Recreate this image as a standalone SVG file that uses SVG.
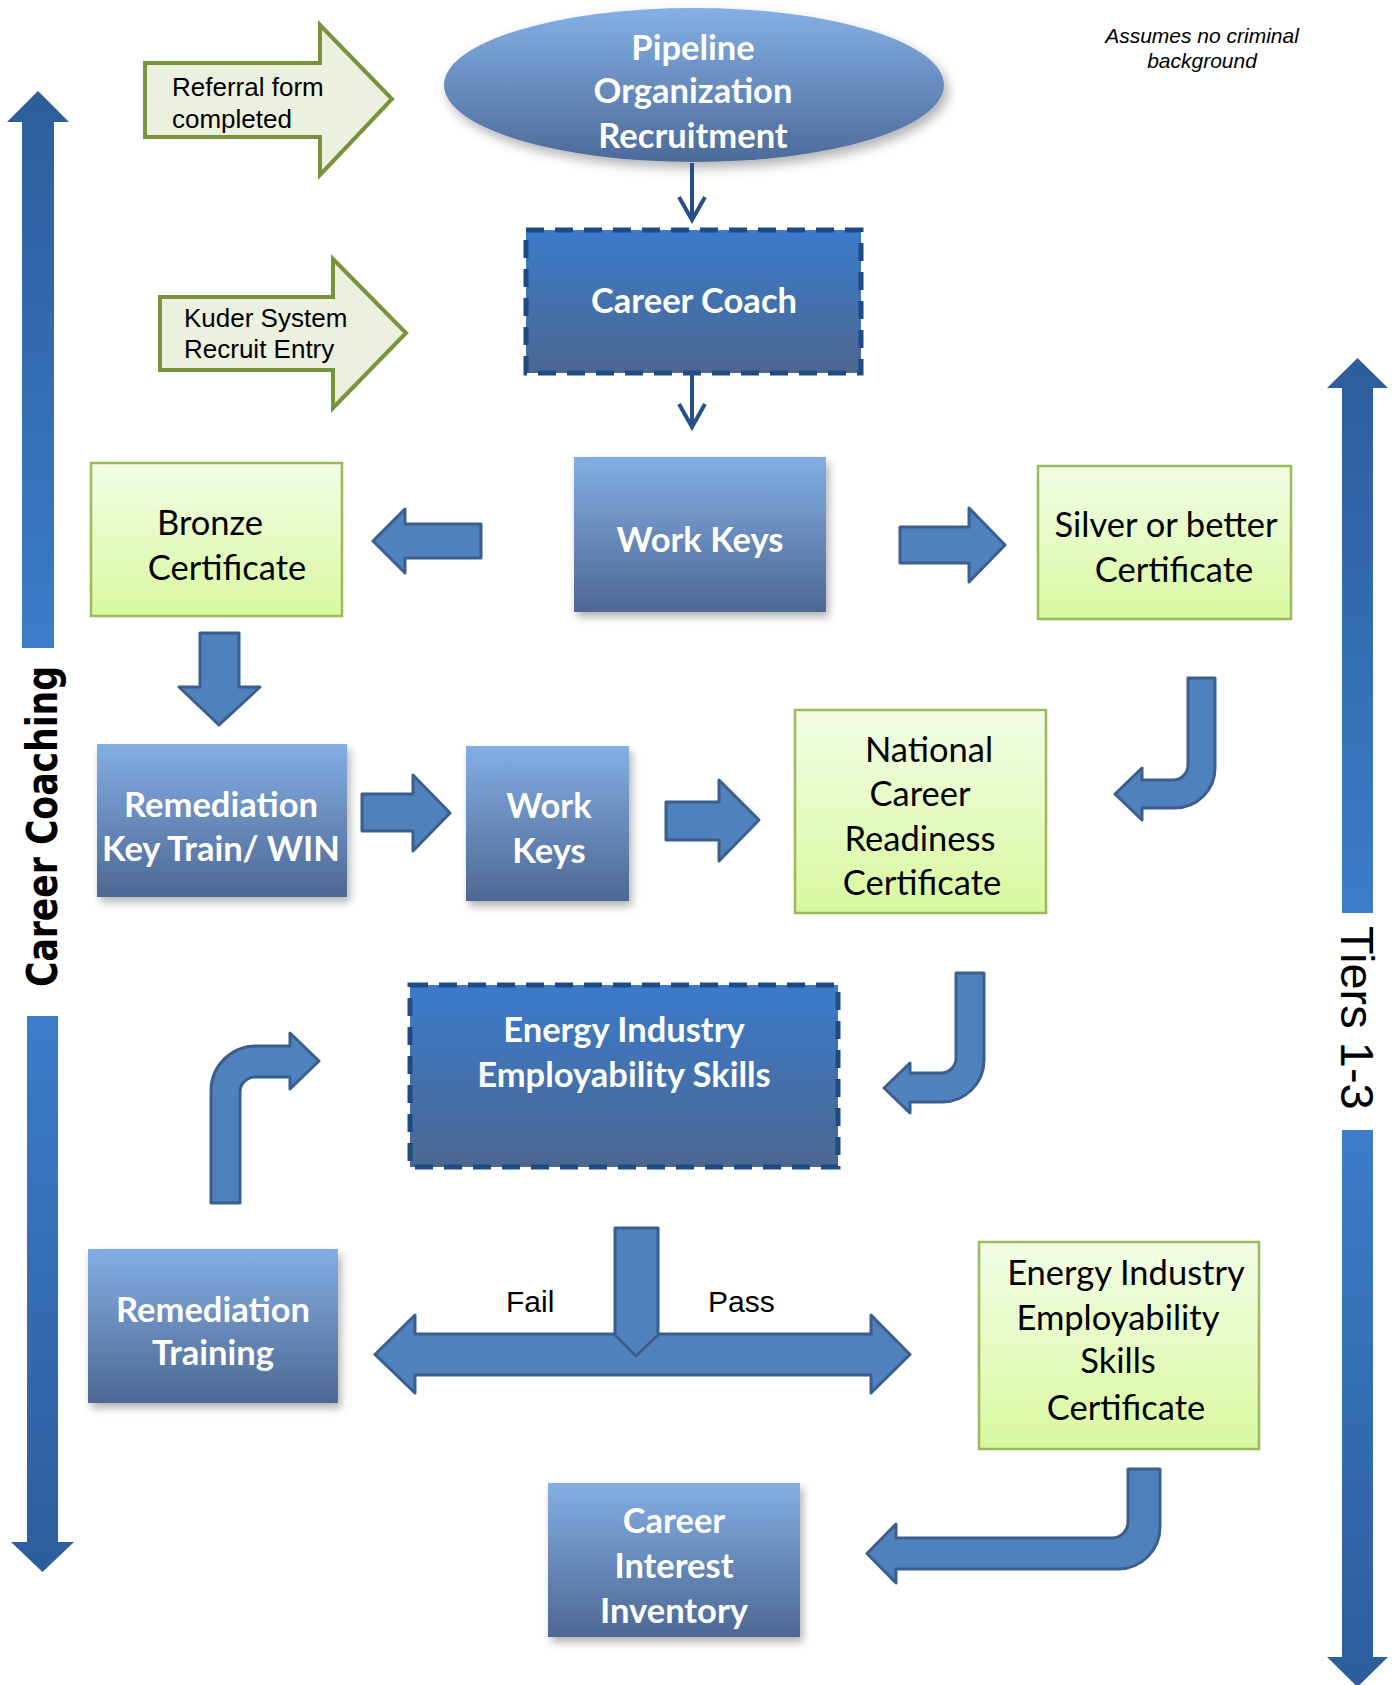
<svg xmlns="http://www.w3.org/2000/svg" width="1396" height="1685" viewBox="0 0 1396 1685">
<defs>
<linearGradient id="gBlue" x1="0" y1="0" x2="0" y2="1"><stop offset="0" stop-color="#84aee3"/><stop offset="1" stop-color="#4d6893"/></linearGradient>
<linearGradient id="gDash" x1="0" y1="0" x2="0" y2="1"><stop offset="0" stop-color="#3b7bcb"/><stop offset="1" stop-color="#4b6790"/></linearGradient>
<linearGradient id="gEll" x1="0" y1="0" x2="0" y2="1"><stop offset="0" stop-color="#84b0e5"/><stop offset="1" stop-color="#4c6a98"/></linearGradient>
<linearGradient id="gGreen" x1="0" y1="0" x2="0" y2="1"><stop offset="0" stop-color="#f3fde6"/><stop offset="1" stop-color="#d8f9a0"/></linearGradient>
<linearGradient id="gUp" x1="0" y1="0" x2="0" y2="1"><stop offset="0" stop-color="#2d5d9a"/><stop offset="1" stop-color="#3c7cca"/></linearGradient>
<linearGradient id="gDown" x1="0" y1="0" x2="0" y2="1"><stop offset="0" stop-color="#3c7cca"/><stop offset="1" stop-color="#2d5d9a"/></linearGradient>
<filter id="sh" x="-20%" y="-20%" width="140%" height="150%"><feDropShadow dx="3" dy="5" stdDeviation="4" flood-color="#000" flood-opacity="0.3"/></filter>
<filter id="glow" x="-20%" y="-30%" width="140%" height="160%"><feDropShadow dx="4" dy="6" stdDeviation="6" flood-color="#000" flood-opacity="0.3"/></filter>
<style>
.blue{fill:url(#gBlue);filter:url(#sh)}
.dash{fill:url(#gDash);stroke:#1f4a82;stroke-width:5;stroke-dasharray:18 11}
.green{fill:url(#gGreen);stroke:#9bbb59;stroke-width:2.5}
.wt{font-family:Lato,"Liberation Sans",sans-serif;font-weight:bold;font-size:34.5px;fill:#fff;text-anchor:middle}
.bt{font-family:Lato,"Liberation Sans",sans-serif;font-size:34.5px;fill:#000;text-anchor:middle}
.arr{fill:#4f81bd;stroke:#3a5f8e;stroke-width:3;stroke-linejoin:round}
.side{fill:#ebf1de;stroke:#77933c;stroke-width:4}
.st{font-family:"Liberation Sans",Arial,sans-serif;font-size:26px;fill:#000}
.thin{fill:none;stroke:#264f87;stroke-width:4}
</style>
</defs>
<rect width="1396" height="1685" fill="#fff"/>

<g id="career-coaching-arrow">
<path d="M22,648 L22,122 L7,122 L38,91 L69,122 L54,122 L54,648 Z" fill="url(#gUp)"/>
<path d="M27,1016 L58,1016 L58,1542 L74,1542 L42.5,1572 L11,1542 L27,1542 Z" fill="url(#gDown)"/>
<text transform="translate(57,987) rotate(-90)" font-family="'DejaVu Sans',sans-serif" font-weight="bold" font-size="43" textLength="321" lengthAdjust="spacingAndGlyphs">Career Coaching</text>
</g>

<g id="tiers-arrow">
<path d="M1342,913 L1342,388 L1327,388 L1357.5,358 L1388,388 L1373,388 L1373,913 Z" fill="url(#gUp)"/>
<path d="M1342,1130 L1373,1130 L1373,1657 L1388,1657 L1357.5,1687 L1327,1657 L1342,1657 Z" fill="url(#gDown)"/>
<text transform="translate(1341,926) rotate(90)" font-family="'Liberation Sans',Arial,sans-serif" font-size="47">Tiers 1-3</text>
</g>

<g id="note">
<text x="1202" y="43" font-family="'Liberation Sans',Arial,sans-serif" font-style="italic" font-size="21" text-anchor="middle">Assumes no criminal</text>
<text x="1202" y="68" font-family="'Liberation Sans',Arial,sans-serif" font-style="italic" font-size="21" text-anchor="middle">background</text>
</g>

<g id="referral">
<path class="side" d="M145,63 L320,63 L320,25 L392,99 L320,175 L320,137 L145,137 Z"/>
<text class="st" x="172" y="96">Referral form</text>
<text class="st" x="172" y="128">completed</text>
</g>

<g id="kuder">
<path class="side" d="M160,297 L333,297 L333,259 L406,333 L333,408 L333,370 L160,370 Z"/>
<text class="st" x="184" y="327">Kuder System</text>
<text class="st" x="184" y="358">Recruit Entry</text>
</g>

<g id="pipeline">
<ellipse cx="694" cy="85" rx="250" ry="77" fill="url(#gEll)" filter="url(#glow)"/>
<text class="wt" x="693" y="60">Pipeline</text>
<text class="wt" x="693" y="103">Organization</text>
<text class="wt" x="693" y="148">Recruitment</text>
</g>

<g id="career-coach">
<rect class="dash" x="526" y="230" width="335" height="143"/>
<text class="wt" x="694" y="313">Career Coach</text>
</g>

<g id="work-keys">
<rect class="blue" x="574" y="457" width="252" height="155"/>
<text class="wt" x="700" y="552">Work Keys</text>
</g>

<g id="bronze">
<rect class="green" x="91" y="463" width="251" height="153"/>
<text class="bt" x="210" y="535">Bronze</text>
<text class="bt" x="227" y="580">Certificate</text>
</g>

<g id="silver">
<rect class="green" x="1038" y="466" width="253" height="153"/>
<text class="bt" x="1166" y="537">Silver or better</text>
<text class="bt" x="1174" y="582">Certificate</text>
</g>

<g id="remediation-keytrain">
<rect class="blue" x="97" y="744" width="250" height="153"/>
<text class="wt" x="221" y="817">Remediation</text>
<text class="wt" x="221" y="861">Key Train/ WIN</text>
</g>

<g id="work-keys-2">
<rect class="blue" x="466" y="746" width="163" height="155"/>
<text class="wt" x="549" y="818">Work</text>
<text class="wt" x="549" y="863">Keys</text>
</g>

<g id="national">
<rect class="green" x="795" y="710" width="251" height="203"/>
<text class="bt" x="929" y="762">National</text>
<text class="bt" x="920" y="806">Career</text>
<text class="bt" x="920" y="851">Readiness</text>
<text class="bt" x="922" y="895">Certificate</text>
</g>

<g id="energy-skills">
<rect class="dash" x="410" y="985" width="428" height="182"/>
<text class="wt" x="624" y="1042">Energy Industry</text>
<text class="wt" x="624" y="1087">Employability Skills</text>
</g>

<g id="remediation-training">
<rect class="blue" x="88" y="1249" width="250" height="154"/>
<text class="wt" x="213" y="1322">Remediation</text>
<text class="wt" x="213" y="1365">Training</text>
</g>

<g id="energy-cert">
<rect class="green" x="979" y="1242" width="280" height="207"/>
<text class="bt" x="1126" y="1285">Energy Industry</text>
<text class="bt" x="1118" y="1330">Employability</text>
<text class="bt" x="1118" y="1373">Skills</text>
<text class="bt" x="1126" y="1420">Certificate</text>
</g>

<g id="career-interest">
<rect class="blue" x="548" y="1483" width="252" height="154"/>
<text class="wt" x="674" y="1533">Career</text>
<text class="wt" x="674" y="1578">Interest</text>
<text class="wt" x="674" y="1623">Inventory</text>
</g>

<g id="connectors">
<path class="thin" d="M692,163 L692,219 M679,197 L692,220 L705,197"/>
<path class="thin" d="M692,373 L692,426 M679,404 L692,427 L705,404"/>
<path class="arr" d="M481,524 L405,524 L405,509 L373,541 L405,573 L405,558 L481,558 Z"/>
<path class="arr" d="M900,527 L969,527 L969,508 L1005,545 L969,582 L969,563 L900,563 Z"/>
<path class="arr" d="M200,633 L239,633 L239,687 L260,687 L219,725 L179,687 L200,687 Z"/>
<path class="arr" d="M362,794 L413,794 L413,775 L450,813 L413,851 L413,831 L362,831 Z"/>
<path class="arr" d="M666,802 L719,802 L719,780 L759,820 L719,861 L719,840 L666,840 Z"/>
<path class="arr" d="M1188,678 L1215,678 L1215,768 A40,40 0 0 1 1175,808 L1142,808 L1142,820 L1115,794 L1142,768 L1142,780 L1173,780 A15,15 0 0 0 1188,765 Z"/>
<path class="arr" d="M956,973 L984,973 L984,1060 A42,42 0 0 1 942,1102 L910,1102 L910,1113 L884,1088 L910,1063 L910,1073 L941,1073 A15,15 0 0 0 956,1058 Z"/>
<path class="arr" d="M211,1203 L211,1091 A45,45 0 0 1 256,1046 L290,1046 L290,1033 L319,1061 L290,1089 L290,1077 L255,1077 A15,15 0 0 0 240,1092 L240,1203 Z"/>
<path class="arr" d="M375,1354.5 L415,1315 L415,1334 L871,1334 L871,1315 L910,1354.5 L871,1393 L871,1375 L415,1375 L415,1393 Z"/>
<path class="arr" d="M615,1228 L658,1228 L658,1335 L636,1356 L615,1335 Z"/>
<path class="arr" d="M1128,1469 L1160,1469 L1160,1527 A42,42 0 0 1 1118,1569 L896,1569 L896,1583 L867,1553.5 L896,1524 L896,1538 L1112,1538 A16,16 0 0 0 1128,1522 Z"/>
<text x="506" y="1312" font-family="'Liberation Sans',Arial,sans-serif" font-size="30">Fail</text>
<text x="708" y="1312" font-family="'Liberation Sans',Arial,sans-serif" font-size="30">Pass</text>
</g>
</svg>
